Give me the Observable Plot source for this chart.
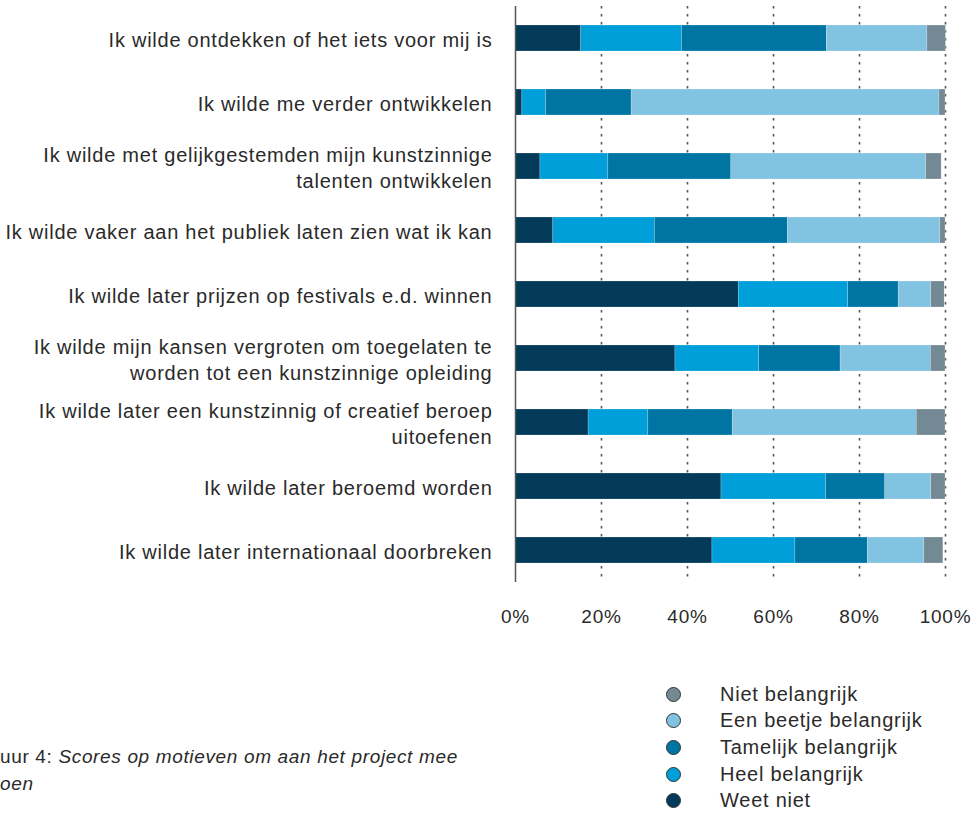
<!DOCTYPE html>
<html>
<head>
<meta charset="utf-8">
<script src="https://cdn.jsdelivr.net/npm/d3@7"></script>
<script src="https://cdn.jsdelivr.net/npm/@observablehq/plot@0.6"></script>
<style>
  html, body { margin: 0; padding: 0; background: #fff; }
  #page { position: relative; width: 976px; height: 816px; overflow: hidden; font-family: "Liberation Sans", Arial, sans-serif; color: #2a2a2a; }
  #chart { position: absolute; left: 0; top: 0; }
  #chart svg text { letter-spacing: 0.75px; }
  #legend { position: absolute; left: 666px; top: 681px; }
  .lg-row { display: flex; align-items: center; height: 26.6px; font-size: 20px; letter-spacing: 0.75px; }
  .lg-dot { width: 15px; height: 15px; border-radius: 50%; box-sizing: border-box; border: 1px solid #333; margin-right: 39px; }
  #caption { position: absolute; left: 0; top: 743px; width: 600px; font-size: 19px; line-height: 27px; letter-spacing: 0.65px; }
  #caption .line { position: relative; white-space: nowrap; }
</style>
</head>
<body>
<div id="page">
  <div id="chart"></div>
  <div id="legend"></div>
  <div id="caption">
    <div class="line" id="cap1"><span class="cut">Fig</span>uur 4: <i>Scores op motieven om aan het project mee</i></div>
    <div class="line" id="cap2"><i><span class="cut">te d</span>oen</i></div>
  </div>
</div>
<script>
// Questions (top to bottom)
const questions = [
  "Ik wilde ontdekken of het iets voor mij is",
  "Ik wilde me verder ontwikkelen",
  "Ik wilde met gelijkgestemden mijn kunstzinnige\ntalenten ontwikkelen",
  "Ik wilde vaker aan het publiek laten zien wat ik kan",
  "Ik wilde later prijzen op festivals e.d. winnen",
  "Ik wilde mijn kansen vergroten om toegelaten te\nworden tot een kunstzinnige opleiding",
  "Ik wilde later een kunstzinnig of creatief beroep\nuitoefenen",
  "Ik wilde later beroemd worden",
  "Ik wilde later internationaal doorbreken"
];
// Answer categories (stack order, left to right)
const categories = ["Weet niet", "Heel belangrijk", "Tamelijk belangrijk", "Een beetje belangrijk", "Niet belangrijk"];
const colors = ["#033a59", "#009fd9", "#0075a3", "#82c3e1", "#738994"];
// Percentages per category, one value per question (same order as questions)
const weetNiet   = [15.3, 1.6, 5.8, 8.8, 51.9, 37.2, 17.0, 47.9, 45.8];
const heel       = [23.4, 5.5, 15.8, 23.6, 25.5, 19.5, 13.9, 24.3, 19.3];
const tamelijk   = [33.7, 19.9, 28.6, 30.9, 11.7, 18.9, 19.6, 13.8, 16.8];
const beetje     = [23.4, 71.6, 45.3, 35.5, 7.6, 21.0, 42.8, 10.7, 13.2];
const niet       = [4.3, 1.4, 3.6, 1.2, 3.1, 3.4, 6.7, 3.3, 4.4];
const xTicks = [0, 20, 40, 60, 80, 100];
const legendOrder = ["Niet belangrijk", "Een beetje belangrijk", "Tamelijk belangrijk", "Heel belangrijk", "Weet niet"];

const series = [weetNiet, heel, tamelijk, beetje, niet];
const data = [];
questions.forEach((q, i) => {
  categories.forEach((c, j) => data.push({question: q, category: c, value: series[j][i]}));
});

const chart = Plot.plot({
  width: 976,
  height: 640,
  marginLeft: 515,
  marginRight: 31,
  marginTop: 6,
  marginBottom: 58,
  style: {fontFamily: "Liberation Sans, Arial, sans-serif", fontSize: "20px", color: "#2a2a2a", background: "#fff"},
  x: {domain: [0, 100], axis: null, label: null},
  y: {domain: questions, paddingInner: 0.595, paddingOuter: 0.2975, axis: null, label: null},
  color: {domain: categories, range: colors},
  marks: [
    Plot.gridX(xTicks.slice(1), {stroke: "#555", strokeOpacity: 1, strokeWidth: 1.6, strokeDasharray: "2.5,5.5"}),
    Plot.barX(data, {y: "question", x: "value", fill: "category", order: categories, stroke: "#fff", strokeWidth: 0.4, strokeOpacity: 0.5}),
    Plot.ruleX([0], {stroke: "#555", strokeWidth: 1.5}),
    Plot.axisX({ticks: xTicks, tickSize: 0, tickPadding: 27, tickFormat: d => d + "%", fontSize: 19, label: null}),
    Plot.axisY({tickSize: 0, tickPadding: 23, fontSize: 20, lineHeight: 1.3, label: null})
  ]
});
document.getElementById("chart").appendChild(chart);

const legend = document.getElementById("legend");
legendOrder.forEach(c => {
  const row = document.createElement("div");
  row.className = "lg-row";
  const dot = document.createElement("div");
  dot.className = "lg-dot";
  dot.style.background = colors[categories.indexOf(c)];
  const label = document.createElement("span");
  label.textContent = c;
  row.appendChild(dot);
  row.appendChild(label);
  legend.appendChild(row);
});

// Caption is cropped at the left edge in the reference: shift each line so its cut prefix sits off-page
["cap1", "cap2"].forEach(id => {
  const line = document.getElementById(id);
  const cut = line.querySelector(".cut");
  line.style.left = (-cut.getBoundingClientRect().width) + "px";
});
</script>
</body>
</html>
